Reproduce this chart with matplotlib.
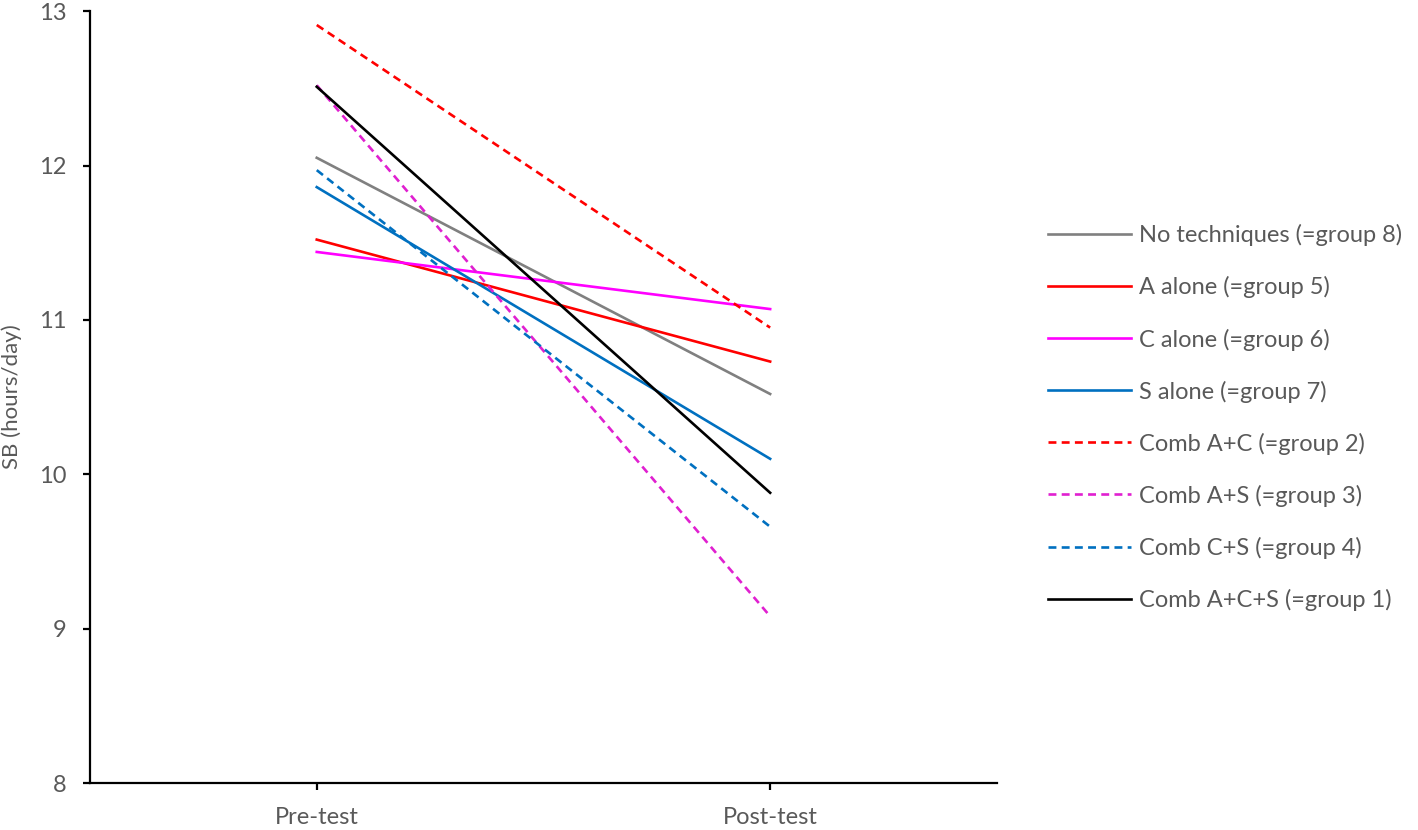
import matplotlib.pyplot as plt

plt.rcParams['font.family'] = ['Lato', 'DejaVu Sans']

phases = ['Pre-test', 'Post-test']

no_tech = [12.05, 10.52]
a_alone = [11.52, 10.73]
c_alone = [11.44, 11.07]
s_alone = [11.86, 10.10]
comb_ac = [12.91, 10.95]
comb_as = [12.52, 9.08]
comb_cs = [11.97, 9.66]
comb_acs = [12.51, 9.88]

labels = ['No techniques (=group 8)', 'A alone (=group 5)', 'C alone (=group 6)',
          'S alone (=group 7)', 'Comb A+C (=group 2)', 'Comb A+S (=group 3)',
          'Comb C+S (=group 4)', 'Comb A+C+S (=group 1)']
series = [no_tech, a_alone, c_alone, s_alone, comb_ac, comb_as, comb_cs, comb_acs]
colors = ['#808080', '#FF0000', '#FF00FF', '#0070C0', '#FF0000', '#E020D0', '#0070C0', '#000000']
styles = ['-', '-', '-', '-', '--', '--', '--', '-']

fig = plt.figure(figsize=(14.18, 8.30), dpi=100)
ax = fig.add_axes([0.0635, 0.0566, 0.6395, 0.930])

x = [1, 2]
for vals, lab, c, ls in zip(series, labels, colors, styles):
    ax.plot(x, vals, color=c, linestyle=ls, linewidth=1.9, label=lab,
            dashes=(3, 2) if ls == '--' else (None, None))

ax.set_xlim(0.5, 2.5)
ax.set_ylim(8, 13)
ax.set_xticks(x)
ax.set_xticklabels(phases)
ax.set_yticks(range(8, 14))
ax.set_ylabel('SB (hours/day)', color='#595959', fontsize=16, labelpad=12)

for s in ['top', 'right']:
    ax.spines[s].set_visible(False)
for s in ['left', 'bottom']:
    ax.spines[s].set_linewidth(1.6)
ax.tick_params(axis='both', direction='out', length=5, width=1.6, colors='black',
               labelcolor='#595959', labelsize=17, pad=12)

leg = ax.legend(loc='upper left', bbox_to_anchor=(1027 / 1418, 1 - 203 / 830),
                bbox_transform=fig.transFigure, frameon=False, fontsize=17,
                handlelength=3.5, labelspacing=1.27, handletextpad=0.35)
for t in leg.get_texts():
    t.set_color('#595959')

fig.savefig('out.png', dpi=100)
